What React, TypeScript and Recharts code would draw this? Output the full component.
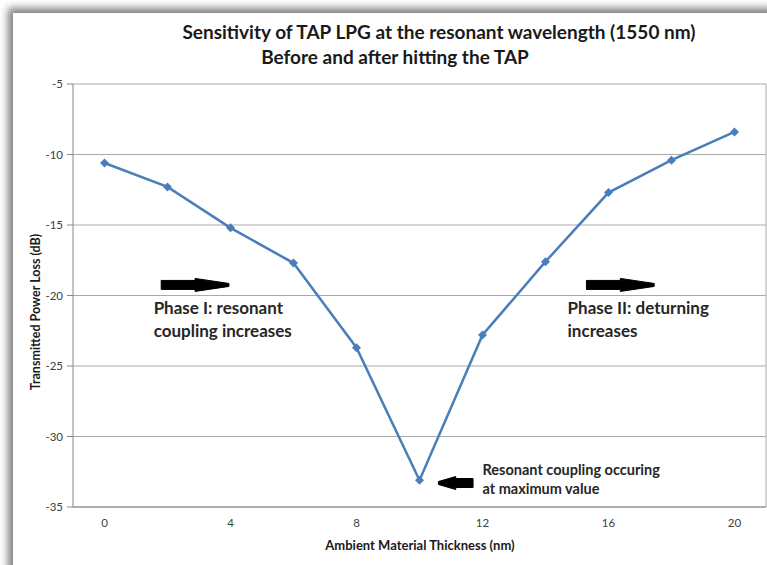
import { LineChart, Line, XAxis, YAxis, CartesianGrid, ReferenceLine, ReferenceDot } from "recharts";

const thickness = [0, 2, 4, 6, 8, 10, 12, 14, 16, 18, 20];
const powerLoss = [-10.6, -12.3, -15.2, -17.7, -23.7, -33.1, -22.8, -17.6, -12.7, -10.4, -8.4];
const xTicks = [0, 4, 8, 12, 16, 20];
const yTicks = [-35, -30, -25, -20, -15, -10, -5];

const titleLines = ["Sensitivity of TAP LPG at the resonant wavelength (1550 nm)", "Before and after hitting the TAP"];
const phaseOneText = ["Phase I: resonant", "coupling increases"];
const phaseTwoText = ["Phase II: deturning", "increases"];
const resonantText = ["Resonant coupling occuring", "at maximum value"];

const FONT = "Lato, 'Open Sans', sans-serif";
const BLUE = "#4a7ebb";

const chartData = thickness.map((x, i) => ({ x, loss: powerLoss[i] }));

const Diamond = (props: any) => {
  const { cx, cy, index } = props;
  if (cx == null || cy == null) return null;
  const s = 4.5;
  return (
    <polygon
      key={`d-${index}`}
      points={`${cx},${cy - s} ${cx + s},${cy} ${cx},${cy + s} ${cx - s},${cy}`}
      fill={BLUE}
    />
  );
};

// thick black arrow from tail (x1) to tip (x2)
const Arrow = (props: any) => {
  const { x1, y1, x2 } = props;
  if (x1 == null || x2 == null) return null;
  const dir = x2 > x1 ? 1 : -1;
  const len = Math.abs(x2 - x1);
  const mid = x1 + dir * len * 0.5;
  const y = y1;
  const d = [
    `M ${x1} ${y - 4.5}`,
    `L ${mid} ${y - 4.5}`,
    `L ${mid} ${y - 6.5}`,
    `L ${x2} ${y - 1.5}`,
    `L ${x2} ${y + 1.5}`,
    `L ${mid} ${y + 6.5}`,
    `L ${mid} ${y + 4.5}`,
    `L ${x1} ${y + 4.5}`,
    "Z",
  ].join(" ");
  return <path d={d} fill="#000" stroke="#000" strokeWidth={1} strokeLinejoin="round" />;
};

const noteShape = (lines: string[], size: number, gap: number) => (props: any) => {
  const { cx, cy } = props;
  if (cx == null || cy == null) return null;
  return (
    <text x={cx} y={cy} fontFamily={FONT} fontWeight={700} fontSize={size} fill="#262626">
      {lines.map((t, i) => (
        <tspan key={i} x={cx} dy={i === 0 ? 0 : gap}>
          {t}
        </tspan>
      ))}
    </text>
  );
};

const titleStyle = {
  position: "absolute" as const,
  width: 700,
  textAlign: "center" as const,
  fontFamily: FONT,
  fontWeight: 700,
  fontSize: 19,
  color: "#1a1a1a",
  whiteSpace: "nowrap" as const,
};

export default function App() {
  return (
    <div style={{ position: "absolute", left: 0, top: 0, width: 767, height: 565, background: "#fff", overflow: "hidden" }}>
      <div
        style={{
          position: "absolute",
          left: 13,
          top: 13,
          width: 800,
          height: 600,
          background: "#fff",
          boxShadow: "-5px -5px 8px rgba(0,0,0,0.5)",
        }}
      />
      <div style={{ position: "absolute", left: 0, top: 0 }}>
        <LineChart width={767} height={565} data={chartData} margin={{ top: 84, right: 1, bottom: 28, left: 13 }}>
          <CartesianGrid vertical={false} stroke="#aaaaaa" strokeWidth={1} />
          <XAxis
            type="number"
            dataKey="x"
            domain={[-1, 21]}
            ticks={xTicks}
            tickLine={false}
            tickSize={6}
            tickMargin={6}
            height={30}
            axisLine={{ stroke: "#868686" }}
            tick={{ fill: "#404040", fontSize: 11.5, fontFamily: FONT }}
          />
          <YAxis
            type="number"
            domain={[-35, -5]}
            ticks={yTicks}
            width={60}
            tickSize={6}
            tickMargin={4}
            interval={0}
            tickLine={{ stroke: "#868686" }}
            axisLine={{ stroke: "#868686" }}
            tick={{ fill: "#404040", fontSize: 11.5, fontFamily: FONT }}
          />
          <ReferenceLine x={21} stroke="#aaaaaa" />
          <Line
            type="linear"
            dataKey="loss"
            stroke={BLUE}
            strokeWidth={2.5}
            dot={Diamond}
            activeDot={false}
            isAnimationActive={false}
          />
          <ReferenceLine segment={[{ x: 1.8, y: -19.25 }, { x: 3.95, y: -19.25 }]} shape={Arrow} />
          <ReferenceLine segment={[{ x: 15.3, y: -19.25 }, { x: 17.45, y: -19.25 }]} shape={Arrow} />
          <ReferenceLine segment={[{ x: 11.7, y: -33.3 }, { x: 10.6, y: -33.3 }]} shape={Arrow} />
          <ReferenceDot x={1.56} y={-21.3} r={0} shape={noteShape(phaseOneText, 17, 23)} />
          <ReferenceDot x={14.7} y={-21.3} r={0} shape={noteShape(phaseTwoText, 17, 23)} />
          <ReferenceDot x={12.0} y={-32.75} r={0} shape={noteShape(resonantText, 14.5, 19)} />
        </LineChart>
      </div>
      <div style={{ ...titleStyle, left: 439 - 350, top: 20 }}>{titleLines[0]}</div>
      <div style={{ ...titleStyle, left: 395 - 350, top: 45 }}>{titleLines[1]}</div>
      <div
        style={{
          position: "absolute",
          left: 420 - 150,
          top: 537,
          width: 300,
          textAlign: "center",
          fontFamily: FONT,
          fontWeight: 700,
          fontSize: 13,
          color: "#1a1a1a",
        }}
      >
        Ambient Material Thickness (nm)
      </div>
      <div
        style={{
          position: "absolute",
          left: 36 - 100,
          top: 312 - 8,
          width: 200,
          height: 16,
          lineHeight: "16px",
          textAlign: "center",
          transform: "rotate(-90deg)",
          fontFamily: FONT,
          fontWeight: 700,
          fontSize: 12.5,
          color: "#1a1a1a",
        }}
      >
        Transmitted Power Loss (dB)
      </div>
    </div>
  );
}
